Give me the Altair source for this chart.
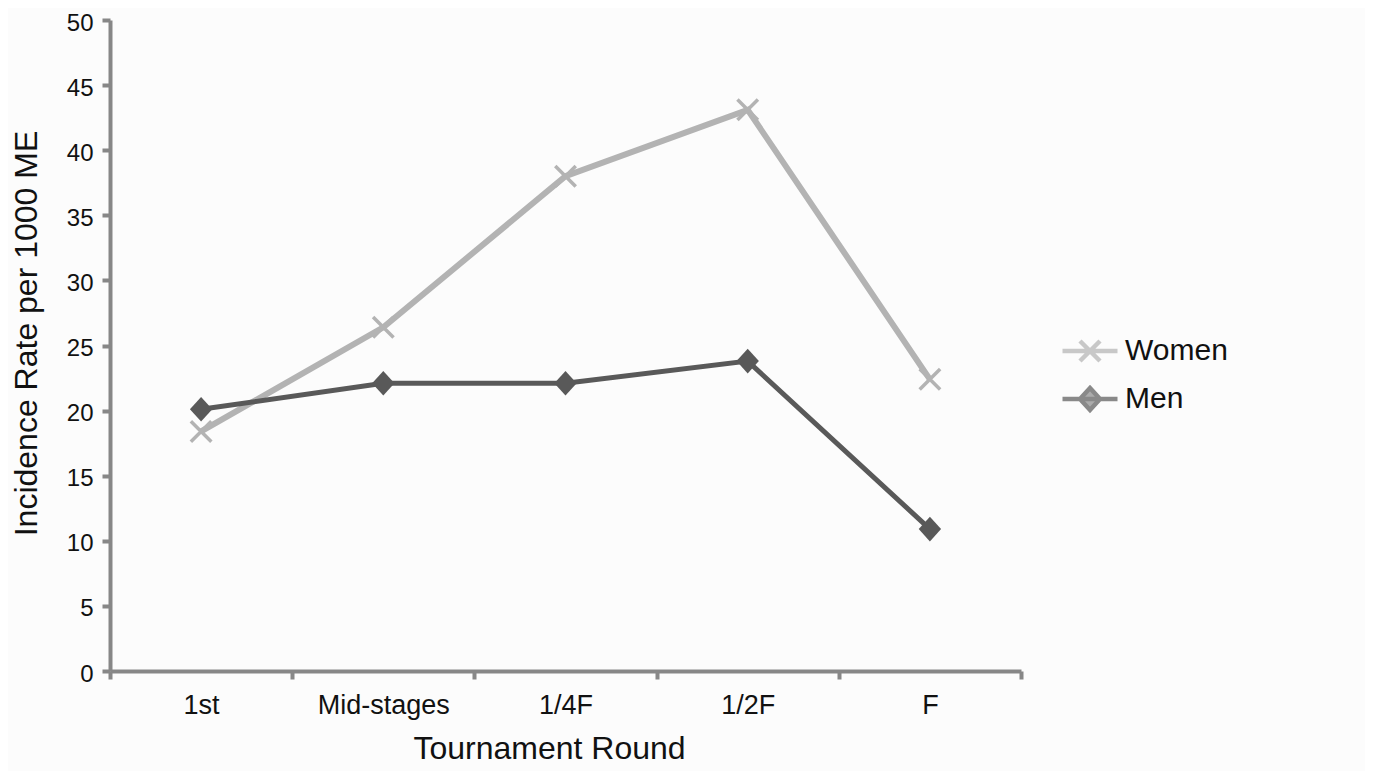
import altair as alt
import pandas as pd

rounds = ["1st", "Mid-stages", "1/4F", "1/2F", "F"]
women = [18.4, 26.4, 38.0, 43.1, 22.4]
men = [20.1, 22.1, 22.1, 23.8, 10.9]
series = ["Women", "Men"]
y_ticks = [0, 5, 10, 15, 20, 25, 30, 35, 40, 45, 50]

colors = ["#b3b3b3", "#595959"]
FONT = "Liberation Sans"

rows = []
for r, w, m in zip(rounds, women, men):
    rows.append({"Round": r, "Series": "Women", "Rate": w})
    rows.append({"Round": r, "Series": "Men", "Rate": m})
df = pd.DataFrame(rows)

X_PATH = "M-1,-1L1,1M-1,1L1,-1"
D_PATH = "M0,-1.1L1,0L0,1.1L-1,0Z"
LEG_W = "M-2.75,0L2.75,0M-1,-1L1,1M-1,1L1,-1"
LEG_M = "M-2.75,0L2.75,0M0,-1.1L1,0L0,1.1L-1,0Z"

x_enc = alt.X(
    "Round:N",
    sort=rounds,
    bandPosition=0.5,
    scale=alt.Scale(type="band", paddingInner=0, paddingOuter=0),
    axis=alt.Axis(
        title="Tournament Round",
        tickBand="extent",
        labelAngle=0,
        labelFontSize=27,
        labelPadding=13,
        titlePadding=15,
        titleX=439,
    ),
)
y_enc = alt.Y(
    "Rate:Q",
    scale=alt.Scale(domain=[0, 50], nice=False),
    axis=alt.Axis(
        title="Incidence Rate per 1000 ME",
        values=y_ticks,
        labelFontSize=24,
        labelPadding=9,
        labelOffset=3,
        titlePadding=23,
        titleY=313,
    ),
)

base = alt.Chart(df)

women_line = base.transform_filter(alt.datum.Series == "Women").mark_line(
    color=colors[0], strokeWidth=6
).encode(x=x_enc, y=y_enc)

men_line = base.transform_filter(alt.datum.Series == "Men").mark_line(
    color=colors[1], strokeWidth=5
).encode(x=x_enc, y=y_enc)

women_pts = base.transform_filter(alt.datum.Series == "Women").mark_point(
    shape=X_PATH, size=420, filled=False, strokeWidth=3.5, color=colors[0], opacity=1
).encode(x=x_enc, y=y_enc)

men_pts = base.transform_filter(alt.datum.Series == "Men").mark_point(
    shape=D_PATH, size=500, filled=True, color=colors[1], opacity=1
).encode(x=x_enc, y=y_enc)

leg = alt.Legend(
    title=None,
    orient="none",
    legendX=965,
    legendY=316,
    labelFont=FONT,
    labelFontSize=30,
    labelColor="#111111",
    labelOffset=20,
    rowPadding=9,
    symbolSize=400,
    symbolStrokeWidth=4.5,
    padding=0,
)

# legend-only layer: no rows drawn, entries come from the explicit scale domains
legend_layer = base.transform_filter("false").mark_point(size=400, strokeWidth=4.5, filled=True).encode(
    x=x_enc,
    y=y_enc,
    fill=alt.Fill("Series:N", scale=alt.Scale(domain=series, range=colors), legend=leg),
    stroke=alt.Stroke("Series:N", scale=alt.Scale(domain=series, range=colors), legend=leg),
    shape=alt.Shape("Series:N", scale=alt.Scale(domain=series, range=[LEG_W, LEG_M]), legend=leg),
)

chart = (
    alt.layer(women_line, men_line, women_pts, men_pts, legend_layer)
    .properties(
        width=911,
        height=651,
        autosize=alt.AutoSizeParams(type="none"),
        padding={"left": 102, "top": 12, "right": 344, "bottom": 100},
        background="#fcfcfc",
    )
    .configure_view(stroke=None)
    .configure_axis(
        grid=False,
        domainColor="#878787",
        domainWidth=4,
        tickColor="#878787",
        tickWidth=4,
        tickSize=8,
        labelFont=FONT,
        labelColor="#111111",
        titleFont=FONT,
        titleFontSize=32,
        titleFontWeight="normal",
        titleColor="#111111",
    )
)

chart.save("out.html", embed_options={"renderer": "svg", "actions": False})
